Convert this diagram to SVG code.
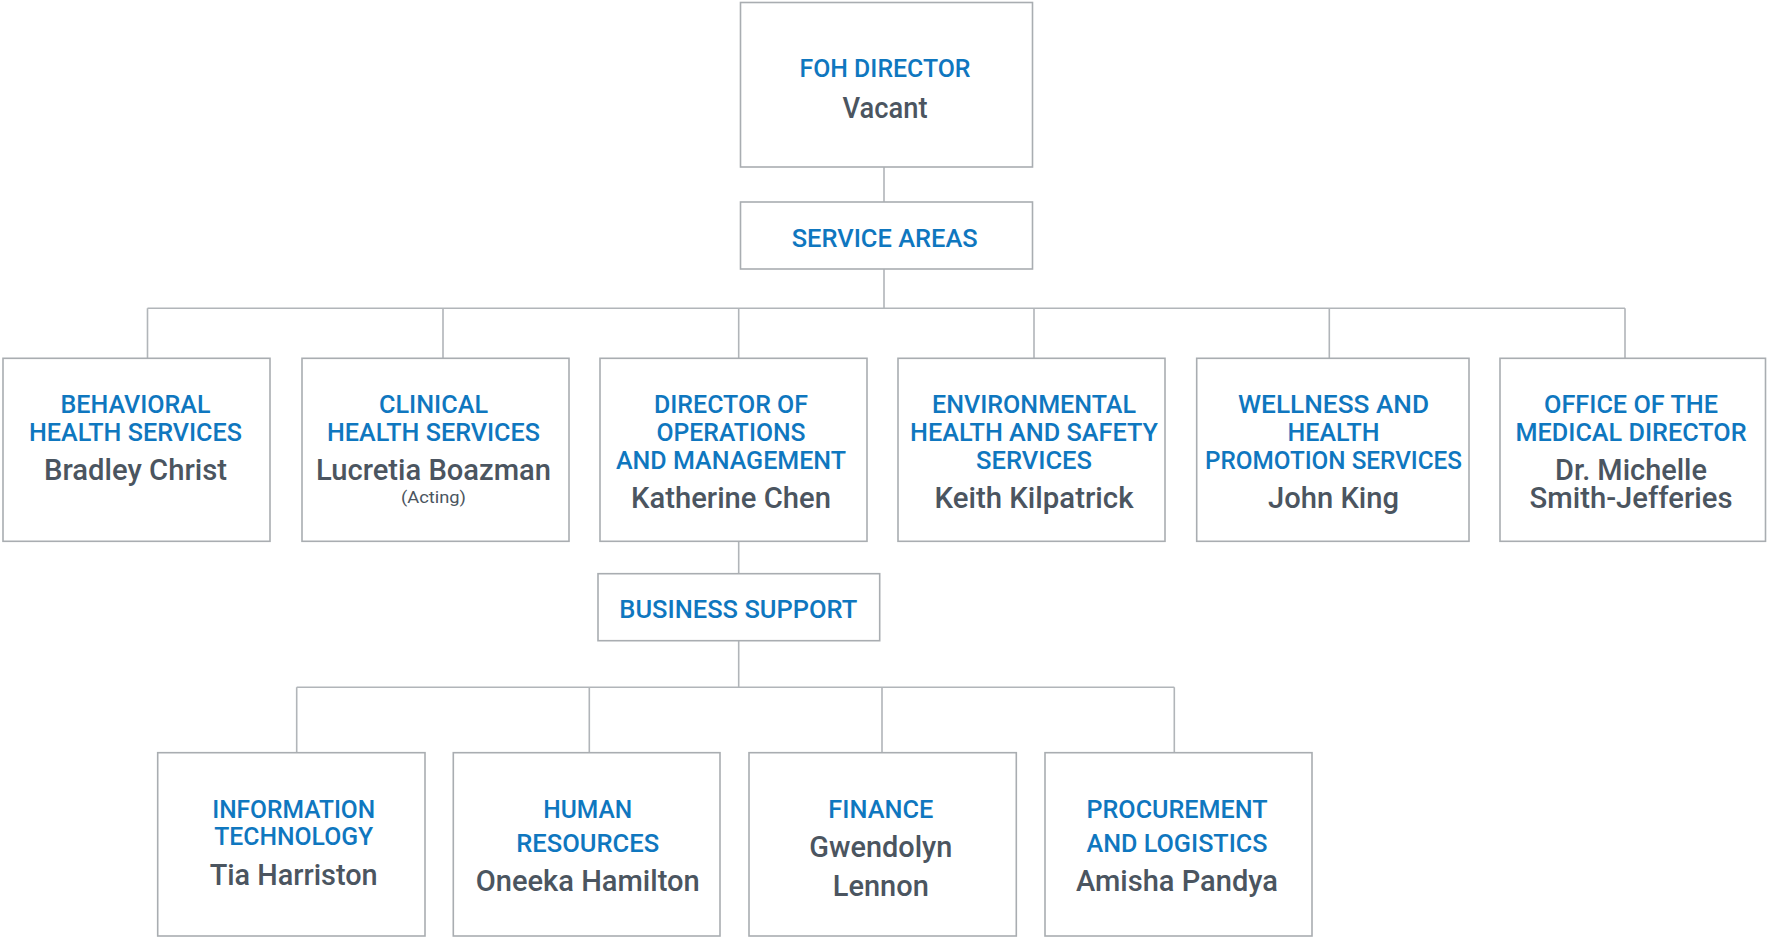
<svg xmlns="http://www.w3.org/2000/svg" width="1767" height="937" viewBox="0 0 1767 937">
<style>
.box{fill:#ffffff;stroke:#a9adb1;stroke-width:1.6}
.ln{stroke:#b1b5b9;stroke-width:1.6;fill:none}
.t{font-family:Roboto,"Liberation Sans",sans-serif;font-weight:500;font-size:26.5px;fill:#0f77bf;text-anchor:middle}
.n{font-family:Roboto,"Liberation Sans",sans-serif;font-weight:500;font-size:30px;fill:#4b5560;text-anchor:middle}
.s{font-family:Roboto,"Liberation Sans",sans-serif;font-weight:400;font-size:16px;fill:#4b5560;text-anchor:middle}
</style>
<rect width="1767" height="937" fill="#ffffff"/>
<g id="connectors">
<path class="ln" d="M884 167V202M884 269V308.3M147.5 308.3H1625M147.5 308.3V358M443 308.3V358M738.7 308.3V358M1034 308.3V358M1329.3 308.3V358M1625 308.3V358"/>
<path class="ln" d="M738.7 541.3V573.7M738.7 640.7V687.3M296.7 687.3H1174.3M296.7 687.3V752.7M589.3 687.3V752.7M882 687.3V752.7M1174.3 687.3V752.7"/>
</g>
<g id="foh-director">
<rect class="box" x="740.5" y="2.5" width="292" height="164.5"/>
<text class="t" x="885" y="77.3" textLength="171" lengthAdjust="spacingAndGlyphs">FOH DIRECTOR</text>
<text class="n" x="885" y="118.3" textLength="85" lengthAdjust="spacingAndGlyphs">Vacant</text>
</g>
<g id="service-areas">
<rect class="box" x="740.5" y="202" width="292" height="67"/>
<text class="t" x="884.7" y="246.7" textLength="186" lengthAdjust="spacingAndGlyphs">SERVICE AREAS</text>
</g>
<g id="behavioral">
<rect class="box" x="3" y="358.3" width="267" height="183"/>
<text class="t" x="135.5" y="412.5" textLength="150" lengthAdjust="spacingAndGlyphs">BEHAVIORAL</text>
<text class="t" x="135.5" y="441" textLength="213" lengthAdjust="spacingAndGlyphs">HEALTH SERVICES</text>
<text class="n" x="135.5" y="479.5" textLength="183" lengthAdjust="spacingAndGlyphs">Bradley Christ</text>
</g>
<g id="clinical">
<rect class="box" x="302" y="358.3" width="267" height="183"/>
<text class="t" x="433.5" y="412.5" textLength="109" lengthAdjust="spacingAndGlyphs">CLINICAL</text>
<text class="t" x="433.5" y="441" textLength="213" lengthAdjust="spacingAndGlyphs">HEALTH SERVICES</text>
<text class="n" x="433.5" y="479.5" textLength="235" lengthAdjust="spacingAndGlyphs">Lucretia Boazman</text>
<text class="s" x="433.5" y="503" textLength="65" lengthAdjust="spacingAndGlyphs">(Acting)</text>
</g>
<g id="operations">
<rect class="box" x="600" y="358.3" width="267" height="183"/>
<text class="t" x="731" y="412.7" textLength="154" lengthAdjust="spacingAndGlyphs">DIRECTOR OF</text>
<text class="t" x="731" y="441.3" textLength="149" lengthAdjust="spacingAndGlyphs">OPERATIONS</text>
<text class="t" x="731" y="469.3" textLength="230" lengthAdjust="spacingAndGlyphs">AND MANAGEMENT</text>
<text class="n" x="731" y="508.3" textLength="200" lengthAdjust="spacingAndGlyphs">Katherine Chen</text>
</g>
<g id="environmental">
<rect class="box" x="898" y="358.3" width="267" height="183"/>
<text class="t" x="1034" y="412.7" textLength="204" lengthAdjust="spacingAndGlyphs">ENVIRONMENTAL</text>
<text class="t" x="1034" y="441.3" textLength="248" lengthAdjust="spacingAndGlyphs">HEALTH AND SAFETY</text>
<text class="t" x="1034" y="469.3" textLength="116" lengthAdjust="spacingAndGlyphs">SERVICES</text>
<text class="n" x="1034" y="508.3" textLength="199" lengthAdjust="spacingAndGlyphs">Keith Kilpatrick</text>
</g>
<g id="wellness">
<rect class="box" x="1196.7" y="358.3" width="272.3" height="183"/>
<text class="t" x="1333.5" y="412.7" textLength="191" lengthAdjust="spacingAndGlyphs">WELLNESS AND</text>
<text class="t" x="1333.5" y="441.3" textLength="92" lengthAdjust="spacingAndGlyphs">HEALTH</text>
<text class="t" x="1333.5" y="469.3" textLength="257" lengthAdjust="spacingAndGlyphs">PROMOTION SERVICES</text>
<text class="n" x="1333.5" y="508.3" textLength="131" lengthAdjust="spacingAndGlyphs">John King</text>
</g>
<g id="medical-director">
<rect class="box" x="1500" y="358.3" width="265.5" height="183"/>
<text class="t" x="1631" y="412.7" textLength="174" lengthAdjust="spacingAndGlyphs">OFFICE OF THE</text>
<text class="t" x="1631" y="441.3" textLength="231" lengthAdjust="spacingAndGlyphs">MEDICAL DIRECTOR</text>
<text class="n" x="1631" y="480" textLength="152" lengthAdjust="spacingAndGlyphs">Dr. Michelle</text>
<text class="n" x="1631" y="508.3" textLength="203" lengthAdjust="spacingAndGlyphs">Smith-Jefferies</text>
</g>
<g id="business-support">
<rect class="box" x="598" y="573.7" width="281.7" height="67"/>
<text class="t" x="738.3" y="618.3" textLength="238" lengthAdjust="spacingAndGlyphs">BUSINESS SUPPORT</text>
</g>
<g id="information-technology">
<rect class="box" x="157.7" y="752.7" width="267.3" height="183.3"/>
<text class="t" x="293.7" y="817.7" textLength="163" lengthAdjust="spacingAndGlyphs">INFORMATION</text>
<text class="t" x="293.7" y="845.3" textLength="159" lengthAdjust="spacingAndGlyphs">TECHNOLOGY</text>
<text class="n" x="293.7" y="885" textLength="168" lengthAdjust="spacingAndGlyphs">Tia Harriston</text>
</g>
<g id="human-resources">
<rect class="box" x="453.3" y="752.7" width="266.7" height="183.3"/>
<text class="t" x="587.7" y="817.7" textLength="89" lengthAdjust="spacingAndGlyphs">HUMAN</text>
<text class="t" x="587.7" y="851.7" textLength="143" lengthAdjust="spacingAndGlyphs">RESOURCES</text>
<text class="n" x="587.7" y="891" textLength="224" lengthAdjust="spacingAndGlyphs">Oneeka Hamilton</text>
</g>
<g id="finance">
<rect class="box" x="749" y="752.7" width="267.3" height="183.3"/>
<text class="t" x="880.8" y="817.7" textLength="105" lengthAdjust="spacingAndGlyphs">FINANCE</text>
<text class="n" x="880.8" y="856.7" textLength="143" lengthAdjust="spacingAndGlyphs">Gwendolyn</text>
<text class="n" x="880.8" y="896" textLength="96" lengthAdjust="spacingAndGlyphs">Lennon</text>
</g>
<g id="procurement">
<rect class="box" x="1045" y="752.7" width="267" height="183.3"/>
<text class="t" x="1177" y="817.7" textLength="181" lengthAdjust="spacingAndGlyphs">PROCUREMENT</text>
<text class="t" x="1177" y="851.7" textLength="181" lengthAdjust="spacingAndGlyphs">AND LOGISTICS</text>
<text class="n" x="1177" y="891" textLength="202" lengthAdjust="spacingAndGlyphs">Amisha Pandya</text>
</g>
</svg>
